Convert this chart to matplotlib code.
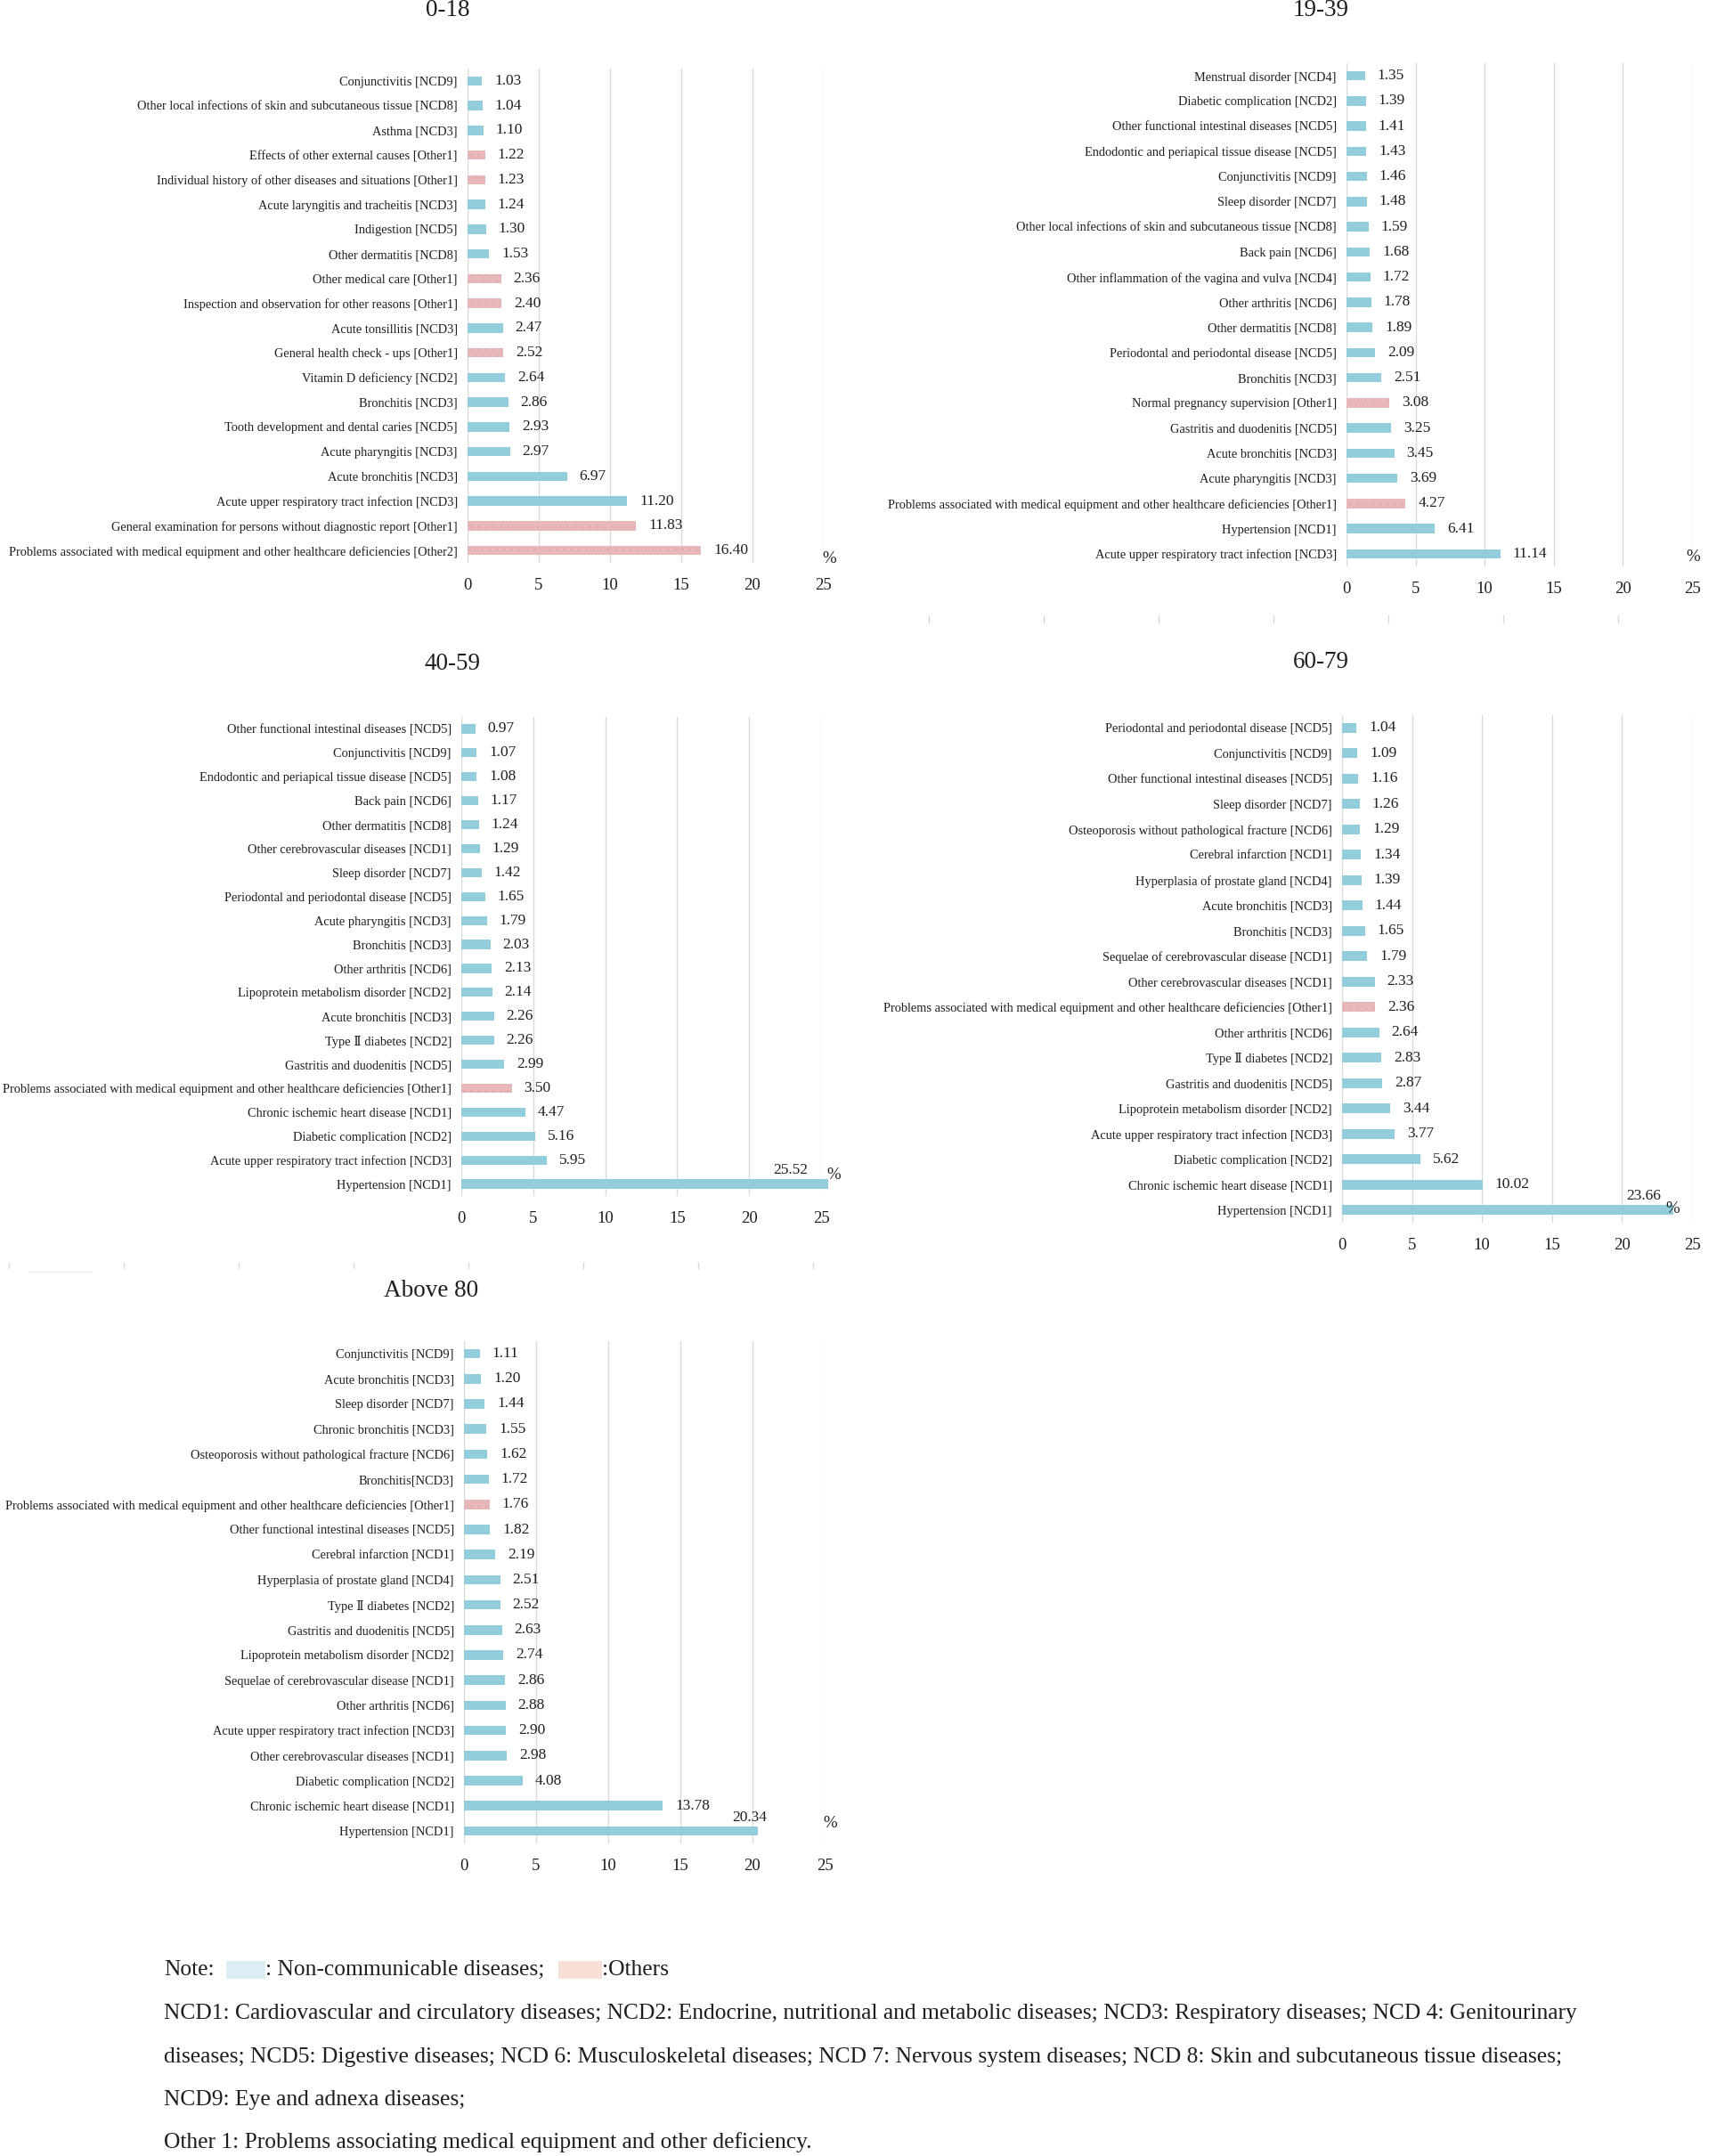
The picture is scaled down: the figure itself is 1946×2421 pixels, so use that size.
import matplotlib
matplotlib.use('Agg')
import matplotlib.pyplot as plt
from matplotlib.patches import Rectangle
from matplotlib.lines import Line2D

plt.rcParams['font.family'] = ['Liberation Serif', 'DejaVu Serif']
plt.rcParams['hatch.linewidth'] = 0.5

# ---------------- data ----------------
titles = ["0-18", "19-39", "40-59", "60-79", "Above 80"]

labels_0_18 = [
    "Conjunctivitis [NCD9]",
    "Other local infections of skin and subcutaneous tissue [NCD8]",
    "Asthma [NCD3]",
    "Effects of other external causes [Other1]",
    "Individual history of other diseases and situations [Other1]",
    "Acute laryngitis and tracheitis [NCD3]",
    "Indigestion [NCD5]",
    "Other dermatitis [NCD8]",
    "Other medical care [Other1]",
    "Inspection and observation for other reasons [Other1]",
    "Acute tonsillitis [NCD3]",
    "General health check - ups [Other1]",
    "Vitamin D deficiency [NCD2]",
    "Bronchitis [NCD3]",
    "Tooth development and dental caries [NCD5]",
    "Acute pharyngitis [NCD3]",
    "Acute bronchitis [NCD3]",
    "Acute upper respiratory tract infection [NCD3]",
    "General examination for persons without diagnostic report [Other1]",
    "Problems associated with medical equipment and other healthcare deficiencies [Other2]",
]
values_0_18 = [1.03, 1.04, 1.10, 1.22, 1.23, 1.24, 1.30, 1.53, 2.36, 2.40,
               2.47, 2.52, 2.64, 2.86, 2.93, 2.97, 6.97, 11.20, 11.83, 16.40]
kinds_0_18 = ["N", "N", "N", "O", "O", "N", "N", "N", "O", "O",
              "N", "O", "N", "N", "N", "N", "N", "N", "O", "O"]

labels_19_39 = [
    "Menstrual disorder [NCD4]",
    "Diabetic complication [NCD2]",
    "Other functional intestinal diseases [NCD5]",
    "Endodontic and periapical tissue disease [NCD5]",
    "Conjunctivitis [NCD9]",
    "Sleep disorder [NCD7]",
    "Other local infections of skin and subcutaneous tissue [NCD8]",
    "Back pain [NCD6]",
    "Other inflammation of the vagina and vulva [NCD4]",
    "Other arthritis [NCD6]",
    "Other dermatitis [NCD8]",
    "Periodontal and periodontal disease [NCD5]",
    "Bronchitis [NCD3]",
    "Normal pregnancy supervision [Other1]",
    "Gastritis and duodenitis [NCD5]",
    "Acute bronchitis [NCD3]",
    "Acute pharyngitis [NCD3]",
    "Problems associated with medical equipment and other healthcare deficiencies [Other1]",
    "Hypertension [NCD1]",
    "Acute upper respiratory tract infection [NCD3]",
]
values_19_39 = [1.35, 1.39, 1.41, 1.43, 1.46, 1.48, 1.59, 1.68, 1.72, 1.78,
                1.89, 2.09, 2.51, 3.08, 3.25, 3.45, 3.69, 4.27, 6.41, 11.14]
kinds_19_39 = ["N"] * 13 + ["O", "N", "N", "N", "O", "N", "N"]

labels_40_59 = [
    "Other functional intestinal diseases [NCD5]",
    "Conjunctivitis [NCD9]",
    "Endodontic and periapical tissue disease [NCD5]",
    "Back pain [NCD6]",
    "Other dermatitis [NCD8]",
    "Other cerebrovascular diseases [NCD1]",
    "Sleep disorder [NCD7]",
    "Periodontal and periodontal disease [NCD5]",
    "Acute pharyngitis [NCD3]",
    "Bronchitis [NCD3]",
    "Other arthritis [NCD6]",
    "Lipoprotein metabolism disorder [NCD2]",
    "Acute bronchitis [NCD3]",
    "Type \u2161 diabetes [NCD2]",
    "Gastritis and duodenitis [NCD5]",
    "Problems associated with medical equipment and other healthcare deficiencies [Other1]",
    "Chronic ischemic heart disease [NCD1]",
    "Diabetic complication [NCD2]",
    "Acute upper respiratory tract infection [NCD3]",
    "Hypertension [NCD1]",
]
values_40_59 = [0.97, 1.07, 1.08, 1.17, 1.24, 1.29, 1.42, 1.65, 1.79, 2.03,
                2.13, 2.14, 2.26, 2.26, 2.99, 3.50, 4.47, 5.16, 5.95, 25.52]
kinds_40_59 = ["N"] * 15 + ["O", "N", "N", "N", "N"]

labels_60_79 = [
    "Periodontal and periodontal disease [NCD5]",
    "Conjunctivitis [NCD9]",
    "Other functional intestinal diseases [NCD5]",
    "Sleep disorder [NCD7]",
    "Osteoporosis without pathological fracture [NCD6]",
    "Cerebral infarction [NCD1]",
    "Hyperplasia of prostate gland [NCD4]",
    "Acute bronchitis [NCD3]",
    "Bronchitis [NCD3]",
    "Sequelae of cerebrovascular disease [NCD1]",
    "Other cerebrovascular diseases [NCD1]",
    "Problems associated with medical equipment and other healthcare deficiencies [Other1]",
    "Other arthritis [NCD6]",
    "Type \u2161 diabetes [NCD2]",
    "Gastritis and duodenitis [NCD5]",
    "Lipoprotein metabolism disorder [NCD2]",
    "Acute upper respiratory tract infection [NCD3]",
    "Diabetic complication [NCD2]",
    "Chronic ischemic heart disease [NCD1]",
    "Hypertension [NCD1]",
]
values_60_79 = [1.04, 1.09, 1.16, 1.26, 1.29, 1.34, 1.39, 1.44, 1.65, 1.79,
                2.33, 2.36, 2.64, 2.83, 2.87, 3.44, 3.77, 5.62, 10.02, 23.66]
kinds_60_79 = ["N"] * 11 + ["O"] + ["N"] * 8

labels_80 = [
    "Conjunctivitis [NCD9]",
    "Acute bronchitis [NCD3]",
    "Sleep disorder [NCD7]",
    "Chronic bronchitis [NCD3]",
    "Osteoporosis without pathological fracture [NCD6]",
    "Bronchitis[NCD3]",
    "Problems associated with medical equipment and other healthcare deficiencies [Other1]",
    "Other functional intestinal diseases [NCD5]",
    "Cerebral infarction [NCD1]",
    "Hyperplasia of prostate gland [NCD4]",
    "Type \u2161 diabetes [NCD2]",
    "Gastritis and duodenitis [NCD5]",
    "Lipoprotein metabolism disorder [NCD2]",
    "Sequelae of cerebrovascular disease [NCD1]",
    "Other arthritis [NCD6]",
    "Acute upper respiratory tract infection [NCD3]",
    "Other cerebrovascular diseases [NCD1]",
    "Diabetic complication [NCD2]",
    "Chronic ischemic heart disease [NCD1]",
    "Hypertension [NCD1]",
]
values_80 = [1.11, 1.20, 1.44, 1.55, 1.62, 1.72, 1.76, 1.82, 2.19, 2.51,
             2.52, 2.63, 2.74, 2.86, 2.88, 2.90, 2.98, 4.08, 13.78, 20.34]
kinds_80 = ["N"] * 6 + ["O"] + ["N"] * 13

x_ticks = [0, 5, 10, 15, 20, 25]

note_lines = [
    "NCD1: Cardiovascular and circulatory diseases; NCD2: Endocrine, nutritional and metabolic diseases; NCD3: Respiratory diseases; NCD 4: Genitourinary",
    "diseases; NCD5: Digestive diseases; NCD 6: Musculoskeletal diseases; NCD 7: Nervous system diseases; NCD 8: Skin and subcutaneous tissue diseases;",
    "NCD9: Eye and adnexa diseases;",
    "Other 1: Problems associating medical equipment and other deficiency.",
]

# ---------------- style / layout ----------------
W, H = 1946, 2421
BLUE = "#92CDDC"
PINK = "#E8B7B8"
PINK_DOT = "#DCA8A9"
GRID = "#D9D9D9"
TXT = "#1E1E1E"

fig = plt.figure(figsize=(W / 100, H / 100), dpi=100)


def rect(l, r, t, b):
    return [l / W, 1 - b / H, (r - l) / W, (b - t) / H]


def fxy(x, y):
    return x / W, 1 - y / H


panels = [
    dict(title=titles[0], labels=labels_0_18, values=values_0_18, kinds=kinds_0_18,
         box=(525, 925, 77, 632), title_xy=(503, 12), pct_xy=(931, 627), big_dx=0),
    dict(title=titles[1], labels=labels_19_39, values=values_19_39, kinds=kinds_19_39,
         box=(1512, 1900, 71, 636), title_xy=(1483, 12), pct_xy=(1901, 625), big_dx=0),
    dict(title=titles[2], labels=labels_40_59, values=values_40_59, kinds=kinds_40_59,
         box=(518, 922, 805, 1343), title_xy=(508, 746), pct_xy=(936, 1319), big_dx=-17),
    dict(title=titles[3], labels=labels_60_79, values=values_60_79, kinds=kinds_60_79,
         box=(1507, 1900, 803, 1373), title_xy=(1483, 744), pct_xy=(1878, 1357), big_dx=-10),
    dict(title=titles[4], labels=labels_80, values=values_80, kinds=kinds_80,
         box=(521, 926, 1506, 2070), title_xy=(484, 1450), pct_xy=(932, 2047), big_dx=8),
]

for p in panels:
    l, r, t, b = p["box"]
    ax = fig.add_axes(rect(l, r, t, b))
    n = len(p["values"])
    ypos = list(range(n))
    bars = ax.barh(ypos, p["values"], height=0.38,
                   color=[BLUE if k == "N" else PINK for k in p["kinds"]],
                   linewidth=0, clip_on=False, zorder=2)
    for bar, k in zip(bars, p["kinds"]):
        if k == "O":
            bar.set_hatch("..")
            bar.set_edgecolor(PINK_DOT)
            bar.set_linewidth(0)
    for i, v in enumerate(p["values"]):
        if v > 20:
            ax.annotate(f"{v:.2f}", (v, i), xytext=(p["big_dx"], 11),
                        textcoords="offset points", ha="right", va="center",
                        fontsize=12.5, color=TXT, annotation_clip=False)
        else:
            ax.annotate(f"{v:.2f}", (v, i), xytext=(10, 0),
                        textcoords="offset points", ha="left", va="center",
                        fontsize=12.5, color=TXT, annotation_clip=False)
    ax.set_xlim(0, 25)
    ax.set_ylim(n - 0.5, -0.5)
    ax.set_yticks(ypos)
    ax.set_yticklabels(p["labels"], fontsize=10.4, color=TXT)
    ax.set_xticks(x_ticks)
    ax.set_xticklabels([str(v) for v in x_ticks], fontsize=13.5, color=TXT)
    ax.tick_params(axis="y", length=0, pad=8)
    ax.tick_params(axis="x", length=0, pad=12)
    ax.grid(axis="x", color=GRID, linewidth=1)
    ax.set_axisbelow(True)
    for s in ax.spines.values():
        s.set_visible(False)
    tx, ty = fxy(*p["title_xy"])
    fig.text(tx, ty, p["title"], ha="center", va="center", fontsize=19.5, color=TXT)
    px, py = fxy(*p["pct_xy"])
    fig.text(px, py, "%", ha="center", va="center", fontsize=13.5, color=TXT)

# faint leftover tick marks from the original page layout
for k in range(7):
    x = 1043 + 129 * k
    fig.add_artist(Line2D([x / W, x / W], [1 - 691 / H, 1 - 699 / H], color=GRID, lw=1))
for k in range(8):
    x = 10 + 129 * k
    fig.add_artist(Line2D([x / W, x / W], [1 - 1418 / H, 1 - 1424 / H], color=GRID, lw=1))
fig.add_artist(Line2D([33 / W, 102 / W], [1 - 1428 / H, 1 - 1428 / H], color="#EDEDED", lw=1))

# ---------------- note ----------------
NOTE_FS = 18.4
nx, ny = fxy(184, 2212)
fig.text(nx, ny, "Note:", ha="left", va="center", fontsize=NOTE_FS, color=TXT)
fig.add_artist(Rectangle(fxy(254, 2222), 44 / W, 20 / H, transform=fig.transFigure,
                         facecolor="#DAEEF3", edgecolor="none"))
fig.text(298 / W, ny, ": Non-communicable diseases;", ha="left", va="center",
         fontsize=NOTE_FS, color=TXT)
fig.add_artist(Rectangle(fxy(627, 2222), 49 / W, 20 / H, transform=fig.transFigure,
                         facecolor="#F9E0D6", edgecolor="none"))
fig.text(676 / W, ny, ":Others", ha="left", va="center", fontsize=NOTE_FS, color=TXT)
for yy, line in zip([2261, 2310, 2358, 2406], note_lines):
    fig.text(184 / W, 1 - yy / H, line, ha="left", va="center", fontsize=NOTE_FS, color=TXT)

fig.savefig("out.png", dpi=100, facecolor="white")
